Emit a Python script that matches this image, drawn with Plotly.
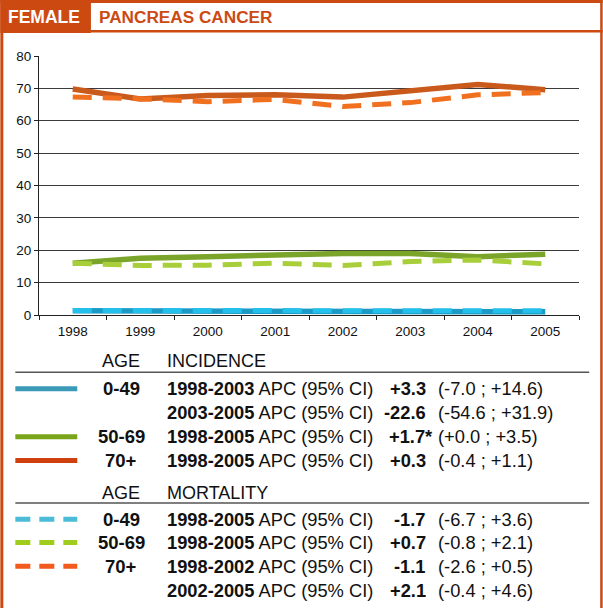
import plotly.graph_objects as go

# ---------------- data ----------------
years = ["1998", "1999", "2000", "2001", "2002", "2003", "2004", "2005"]
inc_0_49 = [1.3, 1.2, 1.2, 1.2, 1.2, 1.2, 1.1, 1.0]
inc_50_69 = [16.0, 17.5, 18.0, 18.7, 19.0, 19.0, 18.0, 18.8]
inc_70 = [69.8, 66.7, 67.8, 68.0, 67.3, 69.2, 71.2, 69.6]
mort_0_49 = [1.4, 1.4, 1.3, 1.4, 1.4, 1.4, 1.3, 1.3]
mort_50_69 = [16.0, 15.3, 15.4, 16.0, 15.3, 16.5, 17.0, 15.8]
mort_70 = [67.3, 66.8, 65.9, 66.6, 64.4, 65.6, 68.0, 68.7]
y_ticks = [0, 10, 20, 30, 40, 50, 60, 70, 80]

sex_label = "FEMALE"
cancer_label = "PANCREAS CANCER"

inc_ages = ["0-49", "", "50-69", "70+"]
inc_periods = ["1998-2003", "2003-2005", "1998-2005", "1998-2005"]
inc_apc = ["+3.3", "-22.6", "+1.7*", "+0.3"]
inc_ci = ["(-7.0 ; +14.6)", "(-54.6 ; +31.9)", "(+0.0 ; +3.5)", "(-0.4 ; +1.1)"]
inc_legend = ["0-49", None, "50-69", "70+"]

mort_ages = ["0-49", "50-69", "70+", ""]
mort_periods = ["1998-2005", "1998-2005", "1998-2002", "2002-2005"]
mort_apc = ["-1.7", "+0.7", "-1.1", "+2.1"]
mort_ci = ["(-6.7 ; +3.6)", "(-0.8 ; +2.1)", "(-2.6 ; +0.5)", "(-0.4 ; +4.6)"]
mort_legend = ["0-49", "50-69", "70+", None]

# ---------------- styles ----------------
W, H = 603, 608
L, R, T, B = 38.7, 579.3, 56.0, 315.0
ORANGE = "#cc4a12"
TXT = "#111111"
FONT = "Liberation Sans, Arial, Helvetica, sans-serif"

solid_col = {"0-49": "#1a9ac4", "50-69": "#7aa52a", "70+": "#c95a1c"}
dash_col = {"0-49": "#22c0ea", "50-69": "#a8cf3a", "70+": "#f07020"}
leg_solid = {"0-49": "#3a9ab8", "50-69": "#7aa51b", "70+": "#d0400e"}
leg_dash = {"0-49": "#4bbcd8", "50-69": "#a0cc1e", "70+": "#f25a1e"}


def px(x):
    return (x - L) / (R - L)


def py(y):
    return (B - y) / (B - T)


fig = go.Figure()

for name, vals in [("0-49", inc_0_49), ("50-69", inc_50_69), ("70+", inc_70)]:
    fig.add_trace(go.Scatter(x=years, y=vals, mode="lines",
                             line=dict(color=solid_col[name], width=5.5),
                             showlegend=False, hoverinfo="skip"))
for name, vals in [("0-49", mort_0_49), ("50-69", mort_50_69), ("70+", mort_70)]:
    fig.add_trace(go.Scatter(x=years, y=vals, mode="lines",
                             line=dict(color=dash_col[name], width=5, dash="19px,11px"),
                             showlegend=False, hoverinfo="skip"))

shapes = []
annotations = []


def rect(x0, y0, x1, y1, color):
    shapes.append(dict(type="rect", xref="paper", yref="paper",
                       x0=px(x0), x1=px(x1), y0=py(y0), y1=py(y1),
                       fillcolor=color, line=dict(width=0), layer="above"))


def hline(x0, x1, y, color, width, dash="solid"):
    shapes.append(dict(type="line", xref="paper", yref="paper",
                       x0=px(x0), x1=px(x1), y0=py(y), y1=py(y),
                       line=dict(color=color, width=width, dash=dash)))


def text(x, y, s, anchor="left", size=18, color=TXT):
    annotations.append(dict(xref="paper", yref="paper", x=px(x), y=py(y),
                            text=s, showarrow=False, xanchor=anchor, yanchor="middle",
                            font=dict(family=FONT, size=size, color=color),
                            borderpad=0))


# frame and header
rect(0, 0, 603, 3, ORANGE)
rect(0, 0, 90.7, 33, ORANGE)
rect(90.7, 30, 603, 32.5, ORANGE)
rect(0, 0, 3, 608, ORANGE)
rect(600.5, 0, 603, 608, ORANGE)
text(7, 17.5, "<b>%s</b>" % sex_label, size=17.5, color="white")
text(98, 17.5, "<b>%s</b>" % cancer_label, size=17.2, color=ORANGE)

AGE_X, PER_X, APC_R, CI_X = 121, 166, 427, 437


def section(head_y, line_y, title, rows_y, ages, periods, apcs, cis, legend, dashed):
    text(AGE_X, head_y, "AGE", anchor="center", size=18)
    text(PER_X, head_y, title, size=18)
    hline(15, 589.5, line_y, "#555555", 1.5)
    for y, age, per, apc, ci, lg in zip(rows_y, ages, periods, apcs, cis, legend):
        if lg is not None:
            if dashed:
                hline(15, 77, y, leg_dash[lg], 5, dash="15px,9px")
            else:
                hline(15, 77, y, leg_solid[lg], 5)
        if age:
            text(AGE_X, y, "<b>%s</b>" % age, anchor="center", size=18.5)
        text(PER_X, y, "<b>%s</b> APC (95%% CI)" % per, size=18.3)
        if apc.endswith("*"):
            text(APC_R + 7, y, "<b>%s</b>" % apc, anchor="right", size=18.3)
        else:
            text(APC_R, y, "<b>%s</b>" % apc, anchor="right", size=18.3)
        text(CI_X, y, ci, size=18.3)


section(361, 372.3, "INCIDENCE", [388.8, 412.8, 436.7, 460.5],
        inc_ages, inc_periods, inc_apc, inc_ci, inc_legend, False)
section(492.7, 503, "MORTALITY", [519.2, 542.5, 566.3, 590.2],
        mort_ages, mort_periods, mort_apc, mort_ci, mort_legend, True)

fig.update_layout(
    width=W, height=H,
    margin=dict(l=L, r=W - R, t=T, b=H - B, pad=0),
    paper_bgcolor="white", plot_bgcolor="white",
    shapes=shapes, annotations=annotations,
    xaxis=dict(type="category", range=[-0.5, 7.5], tickson="boundaries",
               ticks="outside", ticklen=4, tickcolor="#222", showgrid=False,
               showline=True, linecolor="#222", linewidth=1.2,
               ticklabelstandoff=4,
               tickfont=dict(family=FONT, size=13.5, color=TXT), fixedrange=True),
    yaxis=dict(range=[0, 80], tickvals=y_ticks, ticks="outside", ticklen=4,
               tickcolor="#222", showgrid=True, gridcolor="#3a3a3a", gridwidth=1,
               showline=True, linecolor="#222", linewidth=1.2, zeroline=False,
               tickfont=dict(family=FONT, size=13.5, color=TXT), fixedrange=True),
)

fig.write_html(
    "out.html",
    config={"displayModeBar": False},
    post_script="document.body.style.margin='0';document.body.style.overflow='hidden';",
)
